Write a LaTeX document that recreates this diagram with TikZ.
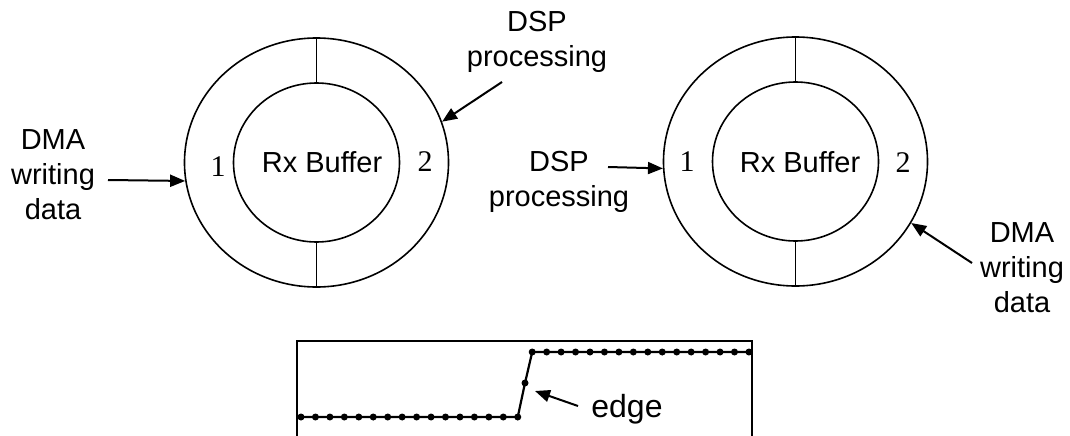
\documentclass[tikz,border=0pt]{standalone}
\usepackage{fontspec}
\setmainfont{Liberation Sans}
\newfontfamily\segfont{Liberation Serif}
\usetikzlibrary{positioning,arrows.meta,shapes.geometric}

\begin{document}
\begin{tikzpicture}[
  x=1pt, y=-1pt,
  >={Triangle[length=15pt,width=12pt]},
  outerring/.style={draw, ellipse, line width=1.6pt, minimum width=264pt,
                    minimum height=249pt, inner sep=0pt},
  innerring/.style={draw, ellipse, line width=1.6pt, minimum width=166pt,
                    minimum height=159pt, inner sep=0pt},
  buflbl/.style={font=\fontsize{29}{34}\selectfont},
  lbl/.style={align=center, font=\fontsize{29}{35}\selectfont},
  segnum/.style={font=\segfont\fontsize{30}{34}\selectfont},
  arr/.style={->, line width=2pt},
  sample/.style={circle, fill, inner sep=0pt, minimum size=7pt},
]
\useasboundingbox (0,0) rectangle (1070,436);

% left buffer: DMA fills half 1, DSP works on half 2
\node[outerring] (outL) at (316.5,162.5) {};
\node[innerring] (inL) at (316.5,162.5) {};
\node[buflbl] (bufL) at (322,162) {Rx Buffer};
\node[segnum] (oneL) at (218,167) {1};
\node[segnum] (twoL) at (425,162) {2};
\draw[line width=1.6pt] (outL.north) -- (inL.north);
\draw[line width=1.6pt] (outL.south) -- (inL.south);

% right buffer: roles swapped
\node[outerring] (outR) at (795.5,161.5) {};
\node[innerring] (inR) at (795.5,161.5) {};
\node[buflbl] (bufR) at (800,162) {Rx Buffer};
\node[segnum] (oneR) at (687,162) {1};
\node[segnum] (twoR) at (903,163) {2};
\draw[line width=1.6pt] (outR.north) -- (inR.north);
\draw[line width=1.6pt] (outR.south) -- (inR.south);

% labels and pointers
\node[lbl] (dmaL) at (53,175) {DMA\\writing\\data};
\node[lbl] (dspL) at (537,42) {DSP\\processing};
\node[lbl] (dspR) at (559,182) {DSP\\processing};
\node[lbl] (dmaR) at (1022,268) {DMA\\writing\\data};
\coordinate (dmaLtail) at (108,180);
\coordinate (dspLtail) at (502,82);
\coordinate (dspRtail) at (608,167);
\coordinate (dmaRtail) at (972,263);
\draw[arr] (dmaLtail) -- (outL.188);
\draw[arr] (dspLtail) -- (outL.18);
\draw[arr] (dspRtail) -- (outR.183);
\draw[arr] (dmaRtail) -- (outR.-28);

% sampled signal with the edge
\draw[line width=1.6pt] (297,436) -- (297,341) -- (752,341) -- (752,436);
\foreach \i in {0,...,15} {
  \node[sample] (lo\i) at ({301+14.45*\i},417) {};
  \node[sample] (hi\i) at ({532.2+14.45*\i},352) {};
}
\node[sample] (mid) at (525,383) {};
\draw[line width=2.2pt] (lo0.center) -- (lo15.center) -- (mid.center)
  -- (hi0.center) -- (hi15.center);
\node[lbl, font=\fontsize{32}{35}\selectfont] (edgelbl) at (627,409) {edge};
\coordinate (edgetail) at (578,406);
\coordinate (edgetip) at (535,391);
\draw[arr] (edgetail) -- (edgetip);

\end{tikzpicture}
\end{document}
